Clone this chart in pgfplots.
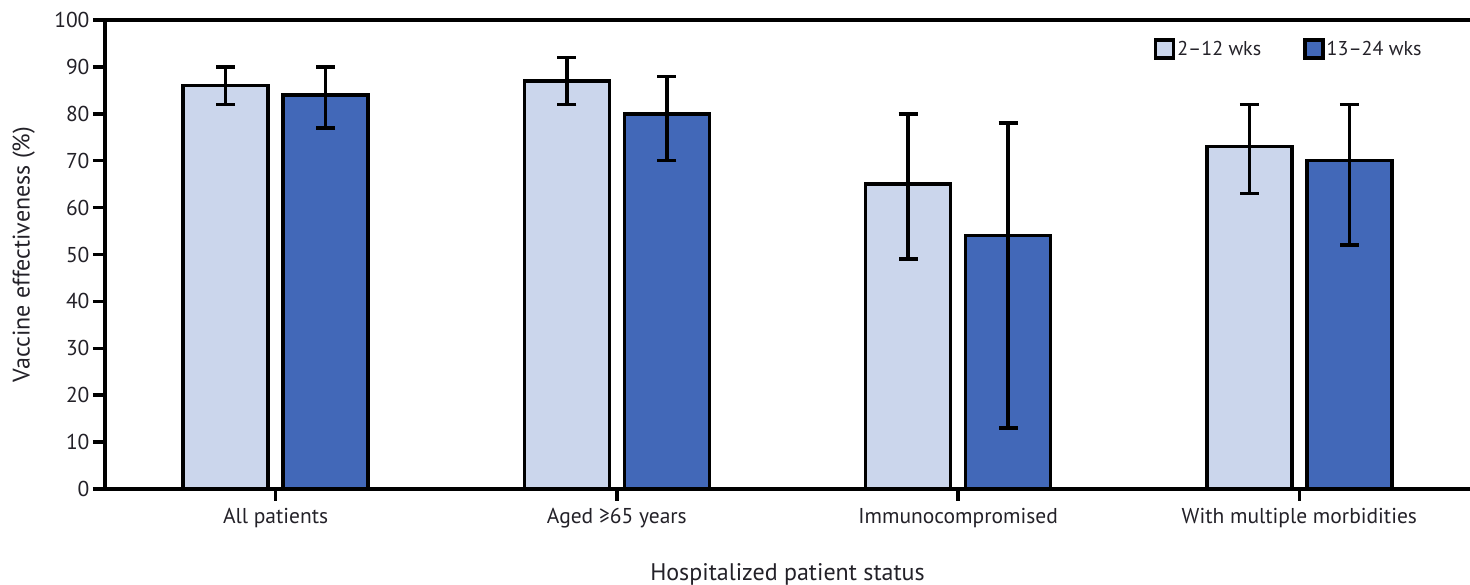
\documentclass[border=0pt]{standalone}
\usepackage{pgfplots}
\pgfplotsset{compat=1.18}
\usepackage{pgfplotstable}
\usepackage{fontspec}
\setmainfont{PT Sans}

\definecolor{early}{RGB}{203,214,236}
\definecolor{late}{RGB}{66,104,184}
\definecolor{ink}{RGB}{35,33,40}

% Vaccine effectiveness with 95% confidence limits, by time since dose
\pgfplotstableread{
x ve lo hi
0 86 82 90
1 87 82 92
2 65 49 80
3 73 63 82
}\earlytab
\pgfplotstableread{
x ve lo hi
0 84 77 90
1 80 70 88
2 54 13 78
3 70 52 82
}\latetab

\newcommand\ticktxt{\fontsize{21.5}{24}\selectfont}
\newcommand\labeltxt{\fontsize{24}{28}\selectfont}
\newcommand\legtxt{\fontsize{20}{24}\selectfont}

\begin{document}
\begin{tikzpicture}
\begin{axis}[
  at={(0pt,0pt)}, anchor=south west,
  scale only axis, width=1365pt, height=469pt,
  xmin=-0.5, xmax=3.5, ymin=0, ymax=100,
  ybar=15pt, bar width=85pt,
  axis x line*=bottom, axis y line*=left,
  axis line style={line width=3.5pt, line cap=rect, black},
  xtick={0,1,2,3},
  xticklabels={All patients, Aged ≥65 years, Immunocompromised, With multiple morbidities},
  ytick={0,10,...,100},
  tick align=outside, major tick length=12pt,
  tick style={line width=3.5pt, black},
  tick label style={font=\ticktxt, text=ink},
  xticklabel style={yshift=-4pt},
  /pgf/number format/assume math mode=true,
  ylabel={Vaccine effectiveness (\%)},
  xlabel={Hospitalized patient status},
  label style={font=\labeltxt, text=ink},
  ylabel style={at={(axis description cs:-0.0595,0.5)}, anchor=center},
  xlabel style={at={(axis description cs:0.5,-0.183)}, anchor=center},
  legend style={at={(0.766,0.966)}, anchor=north west, draw=none, fill=none,
    font=\legtxt, text=ink,
    /tikz/every even column/.append style={column sep=40pt}},
  legend columns=2,
  clip=false,
  error bars/y dir=both, error bars/y explicit,
  error bars/error bar style={line width=3.5pt, black},
  error bars/error mark options={rotate=90, line width=3.5pt, black, mark size=9.5pt},
]
\addplot[fill=early, draw=black, line width=3.5pt,
  legend image code/.code={\draw[fill=early, draw=black, line width=3.5pt] (0pt,-9pt) rectangle (18pt,9pt);}]
  table[x=x, y=ve, y error plus expr=\thisrow{hi}-\thisrow{ve}, y error minus expr=\thisrow{ve}-\thisrow{lo}] {\earlytab};
\addlegendentry{2--12 wks}
\addplot[fill=late, draw=black, line width=3.5pt,
  legend image code/.code={\draw[fill=late, draw=black, line width=3.5pt] (0pt,-9pt) rectangle (18pt,9pt);}]
  table[x=x, y=ve, y error plus expr=\thisrow{hi}-\thisrow{ve}, y error minus expr=\thisrow{ve}-\thisrow{lo}] {\latetab};
\addlegendentry{13--24 wks}
\draw[line width=3.5pt, black] (rel axis cs:0,1) -- (rel axis cs:1,1);
\end{axis}
\pgfresetboundingbox
\path[use as bounding box] (-105pt,-96pt) rectangle (1365pt,489pt);
\end{tikzpicture}
\end{document}
